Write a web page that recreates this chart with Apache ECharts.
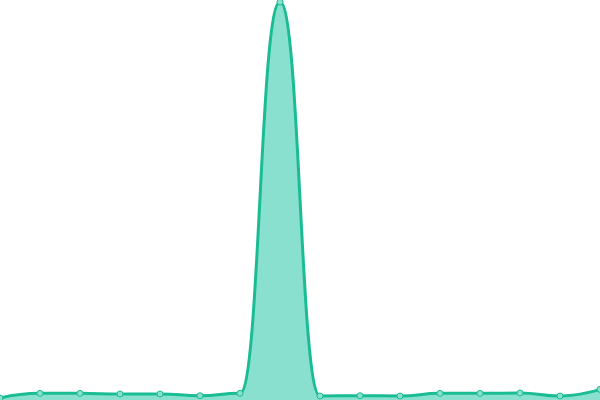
<!DOCTYPE html>
<html><head><meta charset="utf-8">
<script src="https://cdn.jsdelivr.net/npm/echarts@6/dist/echarts.min.js"></script>
<style>html,body{margin:0;padding:0;background:#fff}#c{width:600px;height:400px}</style>
</head><body><div id="c"></div>
<script>
var categories = ['1','2','3','4','5','6','7','8','9','10','11','12','13','14','15','16'];
var values = [2, 6.7, 6.7, 6, 6, 4.3, 6.7, 398, 4, 4.3, 4, 6.7, 6.7, 7, 4, 10.7];
var chart = echarts.init(document.getElementById('c'));
chart.setOption({
  animation: false,
  grid: {left: 0, right: 0, top: 0, bottom: 0},
  xAxis: {type: 'category', data: categories, boundaryGap: false, show: false},
  yAxis: {type: 'value', min: 0, max: 400, show: false},
  series: [{
    type: 'line', data: values, smooth: true, smoothMonotone: 'x',
    symbol: 'circle', symbolSize: 6,
    lineStyle: {color: '#1abc94', width: 3},
    itemStyle: {color: '#8ae0cf', borderColor: '#1abc94', borderWidth: 1},
    areaStyle: {color: '#8ae0cf', opacity: 1}
  }]
});
</script></body></html>
